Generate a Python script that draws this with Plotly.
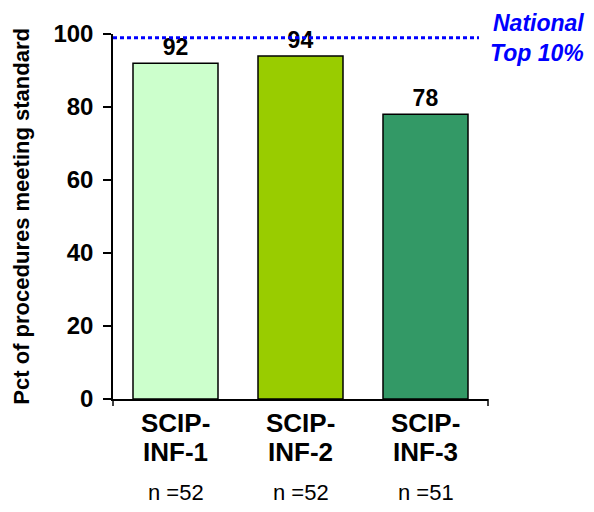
import plotly.graph_objects as go

# chart data
categories = ["SCIP-INF-1", "SCIP-INF-2", "SCIP-INF-3"]
label_line1 = ["SCIP-", "SCIP-", "SCIP-"]
label_line2 = ["INF-1", "INF-2", "INF-3"]
pct_meeting = [92, 94, 78]
n_counts = [52, 52, 51]
bar_colors = ["#CCFFCC", "#99CC00", "#339966"]
national_top10 = 99

FONT = "Arial, Liberation Sans, sans-serif"

fig = go.Figure()
fig.add_trace(go.Bar(
    x=categories,
    y=pct_meeting,
    width=0.68,
    marker=dict(color=bar_colors, line=dict(color="black", width=1.5)),
    text=[f"<b>{v}</b>" for v in pct_meeting],
    textposition="outside",
    textfont=dict(family=FONT, size=23, color="black"),
    cliponaxis=False,
    showlegend=False,
))

# national top 10% reference line
fig.add_shape(type="line", xref="paper", yref="y", x0=0, x1=0.976,
              y0=national_top10, y1=national_top10,
              line=dict(color="#0000FF", width=3, dash="4px,3px"))
fig.add_annotation(xref="paper", yref="y", x=1.26, y=national_top10,
                   text="<b><i>National<br>Top 10%</i></b>", showarrow=False,
                   xanchor="right", yanchor="middle", align="right",
                   font=dict(family=FONT, size=23, color="#0000FF"))

# category labels (two lines) and n counts under each bar
for cat, l1, l2, n in zip(categories, label_line1, label_line2, n_counts):
    fig.add_annotation(x=cat, xref="x", yref="paper", y=-0.065,
                       text=f"<b>{l1}</b>", showarrow=False,
                       xanchor="center", yanchor="middle",
                       font=dict(family=FONT, size=26, color="black"))
    fig.add_annotation(x=cat, xref="x", yref="paper", y=-0.146,
                       text=f"<b>{l2}</b>", showarrow=False,
                       xanchor="center", yanchor="middle",
                       font=dict(family=FONT, size=26, color="black"))
    fig.add_annotation(x=cat, xref="x", yref="paper", y=-0.257,
                       text=f"n ={n}", showarrow=False,
                       xanchor="center", yanchor="middle",
                       font=dict(family=FONT, size=22, color="black"))

# small end ticks on x axis
for xp in (0, 1):
    fig.add_shape(type="line", xref="paper", yref="paper", x0=xp, x1=xp,
                  ysizemode="pixel", yanchor=0, y0=0, y1=-7,
                  line=dict(color="black", width=1.5))

fig.add_annotation(xref="paper", yref="paper", x=-0.245, y=0.5,
                   text="<b>Pct of procedures meeting standard</b>",
                   textangle=-90, showarrow=False,
                   xanchor="center", yanchor="middle",
                   font=dict(family=FONT, size=22, color="black"))

# page body adds an 8px margin, so the figure is a bit smaller than the window
fig.update_layout(
    width=578, height=496,
    margin=dict(l=105, r=98, t=21, b=105),
    plot_bgcolor="white", paper_bgcolor="white",
    font=dict(family=FONT, color="black"),
    xaxis=dict(
        range=[-0.5, 2.5], showline=True, linecolor="black", linewidth=1.5,
        ticks="", showticklabels=False, showgrid=False,
    ),
    yaxis=dict(
        range=[0, 100], dtick=20, showline=True, linecolor="black", linewidth=1.5,
        ticks="outside", ticklen=8, tickwidth=1.5, tickcolor="black",
        tickfont=dict(family=FONT, size=24, color="black"),
        tickprefix="<b>", ticksuffix="</b>", ticklabelstandoff=5,
        showgrid=False, zeroline=False,
    ),
)

fig.write_html("out.html")
